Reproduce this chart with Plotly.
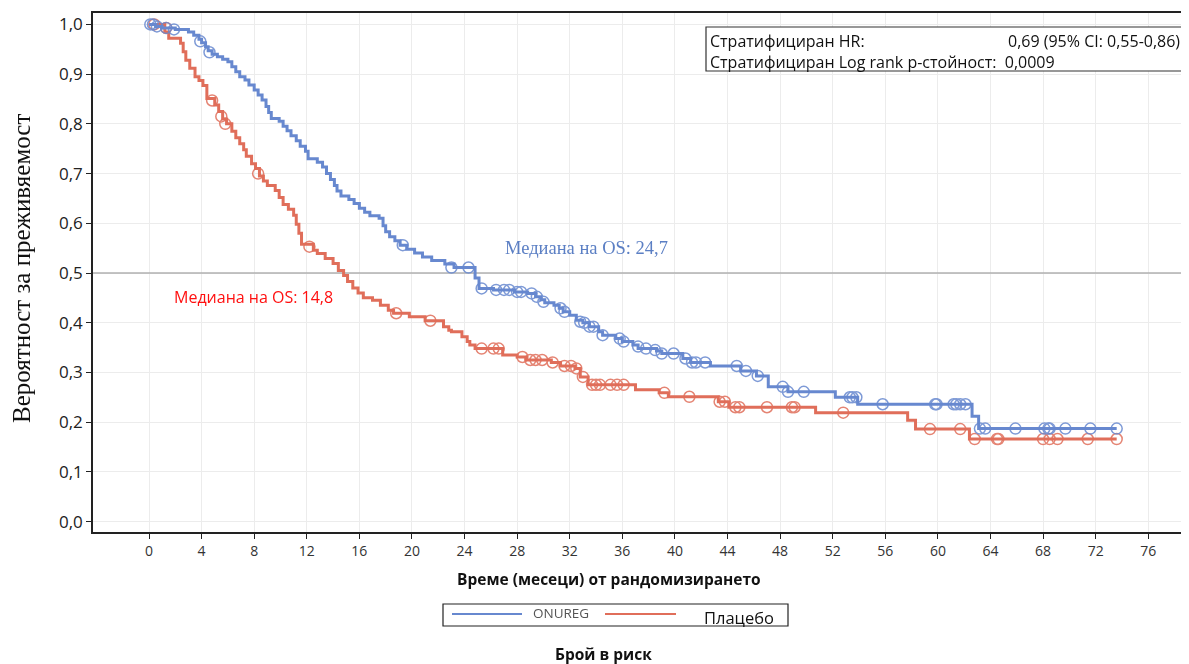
import plotly.graph_objects as go

# ---------------- data ----------------
onureg_t = [0, 0.5, 1.0, 2.0, 3.0, 3.4, 3.8, 4.0, 4.3, 4.5, 4.8, 5.2, 5.6, 6.0, 6.3, 6.6, 6.9,
            7.3, 7.6, 8.0, 8.3, 8.6, 8.9, 9.1, 9.3, 9.9, 10.2, 10.5, 10.8, 11.2, 11.5, 11.9,
            12.1, 12.8, 13.2, 13.5, 13.8, 14.1, 14.3, 14.6, 15.2, 15.6, 16.0, 16.4, 16.8,
            17.5, 17.8, 18.0, 18.3, 18.7, 19.1, 19.6, 20.2, 20.8, 21.5, 22.5, 23.2, 24.8,
            25.1, 26.2, 27.8, 28.8, 29.4, 29.8, 30.1, 30.8, 31.2, 31.5, 32.0, 32.5, 33.0,
            33.5, 34.2, 34.5, 35.5, 36.0, 36.8, 37.2, 38.6, 39.0, 40.6, 41.2, 42.7, 45.0,
            46.2, 47.1, 48.6, 52.2, 53.9, 62.6, 63.1, 73.6]
onureg_s = [1.0, 0.996, 0.993, 0.99, 0.985, 0.978, 0.97, 0.963, 0.955, 0.947, 0.94, 0.935,
            0.93, 0.925, 0.915, 0.905, 0.895, 0.888, 0.878, 0.868, 0.858, 0.848, 0.835,
            0.823, 0.811, 0.805, 0.795, 0.786, 0.776, 0.766, 0.755, 0.745, 0.73, 0.723,
            0.713, 0.70, 0.688, 0.676, 0.665, 0.655, 0.648, 0.64, 0.63, 0.622, 0.615, 0.61,
            0.595, 0.583, 0.573, 0.565, 0.556, 0.548, 0.54, 0.532, 0.525, 0.518, 0.511,
            0.49, 0.469, 0.466, 0.462, 0.459, 0.452, 0.446, 0.44, 0.435, 0.429, 0.422,
            0.415, 0.405, 0.40, 0.392, 0.382, 0.375, 0.368, 0.362, 0.355, 0.348, 0.343,
            0.338, 0.328, 0.32, 0.313, 0.303, 0.293, 0.271, 0.261, 0.25, 0.236, 0.212,
            0.187, 0.187]
onureg_cens_t = [0.1, 0.3, 0.6, 1.3, 1.9, 3.9, 4.6, 19.3, 23.0, 24.3, 25.3, 26.4, 27.0, 27.4,
                 28.0, 28.3, 29.1, 29.5, 30.0, 31.3, 31.6, 32.8, 33.1, 33.5, 33.8, 34.5,
                 35.8, 36.1, 37.2, 37.8, 38.5, 39.0, 39.9, 40.8, 41.3, 41.6, 42.3, 44.7,
                 45.4, 46.3, 48.2, 48.6, 49.8, 53.3, 53.5, 53.8, 55.8, 59.8, 59.9, 61.2,
                 61.4, 61.7, 62.1, 63.2, 63.6, 65.9, 68.1, 68.4, 68.5, 69.7, 71.6, 73.6]
onureg_cens_s = [1.0, 1.0, 0.996, 0.993, 0.99, 0.966, 0.944, 0.556, 0.511, 0.511, 0.469,
                 0.466, 0.466, 0.466, 0.462, 0.462, 0.459, 0.452, 0.442, 0.429, 0.422,
                 0.402, 0.40, 0.392, 0.392, 0.375, 0.368, 0.362, 0.352, 0.348, 0.345,
                 0.338, 0.338, 0.328, 0.32, 0.32, 0.32, 0.313, 0.303, 0.293, 0.271, 0.261,
                 0.261, 0.25, 0.25, 0.25, 0.236, 0.236, 0.236, 0.236, 0.236, 0.236, 0.236,
                 0.187, 0.187, 0.187, 0.187, 0.187, 0.187, 0.187, 0.187, 0.187]

placebo_t = [0, 1.2, 1.5, 2.4, 2.6, 2.8, 3.1, 3.5, 3.8, 4.1, 4.4, 5.0, 5.3, 5.6, 5.9, 6.3,
             6.6, 6.9, 7.2, 7.4, 7.8, 8.1, 8.4, 8.7, 9.0, 9.6, 9.9, 10.2, 10.6, 11.0, 11.2,
             11.4, 11.6, 12.5, 12.8, 13.4, 14.0, 14.4, 14.8, 15.1, 15.5, 15.9, 16.3, 17.0,
             17.6, 18.2, 18.6, 19.8, 21.0, 22.4, 22.8, 23.0, 23.8, 24.2, 24.4, 24.8, 26.9,
             28.0, 28.7, 30.6, 31.3, 32.4, 32.8, 33.4, 37.0, 38.8, 39.5, 43.3, 44.1, 50.7,
             57.7, 58.3, 62.4, 73.6]
placebo_s = [1.0, 0.985, 0.972, 0.962, 0.945, 0.928, 0.912, 0.895, 0.887, 0.877, 0.851,
             0.838, 0.825, 0.81, 0.80, 0.785, 0.772, 0.76, 0.748, 0.735, 0.72, 0.71, 0.695,
             0.685, 0.676, 0.666, 0.652, 0.638, 0.628, 0.616, 0.598, 0.58, 0.558, 0.546,
             0.539, 0.529, 0.519, 0.505, 0.495, 0.483, 0.47, 0.46, 0.45, 0.445, 0.435,
             0.425, 0.419, 0.412, 0.404, 0.392, 0.385, 0.382, 0.372, 0.362, 0.355, 0.348,
             0.335, 0.331, 0.325, 0.32, 0.313, 0.308, 0.291, 0.275, 0.265, 0.259, 0.251,
             0.241, 0.23, 0.219, 0.204, 0.186, 0.166, 0.166]
placebo_cens_t = [0.4, 1.3, 4.8, 5.5, 5.8, 8.3, 12.2, 18.8, 21.4, 25.3, 26.2, 26.6, 28.4,
                  29.0, 29.4, 29.9, 30.7, 31.6, 32.1, 32.5, 33.0, 33.7, 34.0, 34.3, 35.1,
                  35.6, 36.1, 39.2, 41.1, 43.4, 43.8, 44.6, 44.9, 47.0, 48.9, 49.1, 52.8,
                  59.4, 61.7, 62.8, 64.5, 64.6, 68.0, 68.5, 69.1, 71.4, 73.6]
placebo_cens_s = [1.0, 0.993, 0.847, 0.815, 0.80, 0.70, 0.553, 0.419, 0.404, 0.348, 0.348,
                  0.348, 0.331, 0.325, 0.325, 0.325, 0.32, 0.313, 0.313, 0.308, 0.291,
                  0.275, 0.275, 0.275, 0.275, 0.275, 0.275, 0.259, 0.251, 0.241, 0.241,
                  0.23, 0.23, 0.23, 0.23, 0.23, 0.219, 0.186, 0.186, 0.166, 0.166, 0.166,
                  0.166, 0.166, 0.166, 0.166, 0.166]

x_ticks = list(range(0, 77, 4))
y_ticks = [0.0, 0.1, 0.2, 0.3, 0.4, 0.5, 0.6, 0.7, 0.8, 0.9, 1.0]
y_tick_labels = ["0,0", "0,1", "0,2", "0,3", "0,4", "0,5", "0,6", "0,7", "0,8", "0,9", "1,0"]

BLUE = "#6788cf"
RED = "#e06e5a"
X_RANGE = [-4.26, 79.1]
Y_RANGE = [-0.021, 1.023]

fig = go.Figure()

# median reference line at 0.5
fig.add_trace(go.Scatter(x=X_RANGE, y=[0.5, 0.5], mode="lines",
                         line=dict(color="#b0b0b0", width=1.5), hoverinfo="skip",
                         showlegend=False))

for t, s, ct, cs, col in [(placebo_t, placebo_s, placebo_cens_t, placebo_cens_s, RED),
                          (onureg_t, onureg_s, onureg_cens_t, onureg_cens_s, BLUE)]:
    fig.add_trace(go.Scatter(x=t, y=s, mode="lines", line=dict(color=col, width=3, shape="hv"),
                             showlegend=False))
    fig.add_trace(go.Scatter(x=ct, y=cs, mode="markers",
                             marker=dict(symbol="circle-open", size=11, color=col,
                                         line=dict(width=1.5, color=col)),
                             opacity=0.85, showlegend=False))

axis_common = dict(showgrid=True, gridcolor="#ececec", gridwidth=1, zeroline=False,
                   showline=True, linecolor="#222", linewidth=1.5, ticks="outside",
                   ticklen=5, tickcolor="#222")

fig.update_xaxes(range=X_RANGE, tickvals=x_ticks, mirror=True,
                 tickfont=dict(family="Open Sans", size=14, color="#333"), **axis_common)
fig.update_yaxes(range=Y_RANGE, tickvals=y_ticks, ticktext=y_tick_labels,
                 tickfont=dict(family="Open Sans", size=17, color="#222"), **axis_common)

# page is rendered with an 8px body margin: figure occupies page pixels 8..1189 / 8..664
OFF = 8
W, H = 1189 - OFF, 664 - OFF
# plot-area edges in page pixels
PL, PR, PT, PB = 93, 1189, 13, 532
L, R, T, B = PL - OFF, (OFF + W) - PR, PT - OFF, (OFF + H) - PB
PW, PH = W - L - R, H - T - B


def px(xp):
    return (xp - PL) / PW


def py(yp):
    return (PB - yp) / PH


annotations = [
    dict(text="Вероятност за преживяемост", textangle=-90, xref="paper", yref="paper",
         x=px(21), y=py(269), xanchor="center", yanchor="middle", showarrow=False,
         font=dict(family="Liberation Serif", size=25, color="#111")),
    dict(text="<b>Време (месеци) от рандомизирането</b>", xref="paper", yref="paper",
         x=px(609), y=py(579), xanchor="center", yanchor="middle", showarrow=False,
         font=dict(family="Open Sans", size=15.5, color="#111")),
    dict(text="<b>Брой в риск</b>", xref="paper", yref="paper",
         x=px(603), y=py(654), xanchor="center", yanchor="middle", showarrow=False,
         font=dict(family="Open Sans", size=15.5, color="#111")),
    dict(text="ONUREG", xref="paper", yref="paper", x=px(531), y=py(613),
         xanchor="left", yanchor="middle", showarrow=False,
         font=dict(family="Open Sans", size=13.5, color="#555")),
    dict(text="Плацебо", xref="paper", yref="paper", x=px(702), y=py(617),
         xanchor="left", yanchor="middle", showarrow=False,
         font=dict(family="Open Sans", size=16.5, color="#111")),
    dict(text="Медиана на OS: 24,7", xref="paper", yref="paper", x=px(503), y=py(248),
         xanchor="left", yanchor="middle", showarrow=False,
         font=dict(family="Liberation Serif", size=18.5, color="#5b7fc4")),
    dict(text="Медиана на OS: 14,8", xref="paper", yref="paper", x=px(172), y=py(297),
         xanchor="left", yanchor="middle", showarrow=False,
         font=dict(family="Open Sans", size=16, color="#ff1010")),
    dict(text="Стратифициран HR:", xref="paper", yref="paper", x=px(708), y=py(41),
         xanchor="left", yanchor="middle", showarrow=False,
         font=dict(family="Open Sans", size=16, color="#111")),
    dict(text="0,69 (95% CI: 0,55-0,86)", xref="paper", yref="paper", x=px(1182), y=py(41),
         xanchor="right", yanchor="middle", showarrow=False,
         font=dict(family="Open Sans", size=16, color="#111")),
    dict(text="Стратифициран Log rank p-стойност:  0,0009", xref="paper", yref="paper",
         x=px(708), y=py(62), xanchor="left", yanchor="middle", showarrow=False,
         font=dict(family="Open Sans", size=16, color="#111")),
]

shapes = [
    dict(type="rect", xref="paper", yref="paper", x0=px(706), x1=px(1190), y0=py(71),
         y1=py(27), fillcolor="white", line=dict(color="#333", width=1.2), layer="above"),
    dict(type="rect", xref="paper", yref="paper", x0=px(443), x1=px(788), y0=py(626),
         y1=py(604), fillcolor="white", line=dict(color="#222", width=1.2)),
    dict(type="line", xref="paper", yref="paper", x0=px(452), x1=px(522), y0=py(614),
         y1=py(614), line=dict(color=BLUE, width=2.2)),
    dict(type="line", xref="paper", yref="paper", x0=px(605), x1=px(676), y0=py(614),
         y1=py(614), line=dict(color=RED, width=2.2)),
]

fig.update_layout(width=W, height=H, margin=dict(l=L, r=R, t=T, b=B),
                  paper_bgcolor="white", plot_bgcolor="white",
                  annotations=annotations, shapes=shapes, showlegend=False)

fig.write_html("out.html")
